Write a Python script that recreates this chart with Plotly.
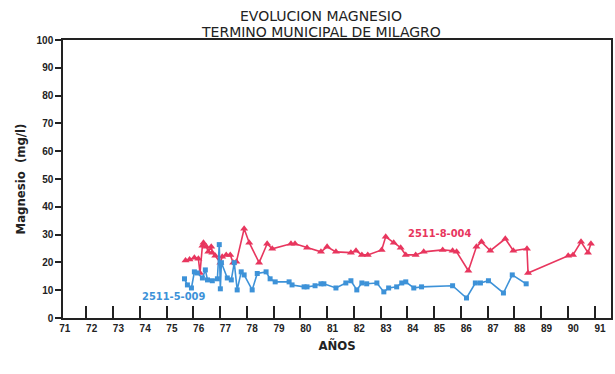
import plotly.graph_objects as go

# Well 2511-8-004 (red, triangles)
years_8004 = [75.51, 75.66, 75.84, 75.99, 76.05, 76.14, 76.18, 76.29, 76.36, 76.47,
              76.51, 76.62, 76.81, 76.88, 77.03, 77.18, 77.29, 77.41, 77.70, 77.89,
              78.26, 78.56, 78.75, 79.45, 79.60, 80.05, 80.57, 80.80, 81.13, 81.69,
              81.88, 82.10, 82.32, 82.84, 82.99, 83.29, 83.55, 83.74, 84.11, 84.41,
              85.12, 85.49, 85.64, 86.08, 86.38, 86.57, 86.90, 87.46, 87.76, 88.27,
              88.31, 89.81, 89.99, 90.29, 90.55, 90.66]
mg_8004 = [20.7, 21.0, 21.7, 21.3, 16.2, 26.0, 27.1, 25.6, 23.8, 25.6,
           23.5, 22.4, 19.9, 22.0, 22.7, 22.7, 19.9, 20.2, 32.1, 27.1,
           19.9, 26.7, 24.9, 26.7, 26.7, 25.3, 23.8, 25.6, 23.8, 23.5,
           24.2, 22.7, 22.7, 24.5, 29.2, 27.1, 25.3, 22.7, 22.7, 23.8,
           24.5, 24.2, 23.8, 17.0, 25.6, 27.4, 24.2, 28.5, 24.2, 24.9,
           16.2, 22.4, 22.7, 27.4, 23.5, 26.7]

# Well 2511-5-009 (blue, squares)
years_5009 = [75.47, 75.58, 75.73, 75.84, 75.95, 76.14, 76.25, 76.33, 76.51, 76.70,
              76.77, 76.81, 76.85, 77.07, 77.22, 77.33, 77.44, 77.59, 77.70, 78.00,
              78.19, 78.52, 78.67, 78.86, 79.38, 79.49, 79.94, 80.05, 80.35, 80.57,
              80.68, 81.13, 81.50, 81.69, 81.91, 82.10, 82.28, 82.66, 82.92, 83.10,
              83.40, 83.59, 83.74, 84.04, 84.33, 85.49, 86.01, 86.34, 86.53, 86.83,
              87.39, 87.72, 88.24]
mg_5009 = [14.1, 11.9, 10.8, 16.6, 16.2, 14.4, 17.3, 13.7, 13.4, 14.1,
           26.4, 10.5, 19.9, 14.4, 13.7, 19.9, 10.1, 16.6, 15.5, 10.1,
           16.0, 16.6, 14.1, 13.0, 13.0, 11.9, 11.2, 11.2, 11.6, 12.3,
           12.3, 10.8, 12.6, 13.4, 10.1, 12.6, 12.3, 12.6, 9.4, 10.8,
           11.2, 12.6, 13.0, 10.8, 11.2, 11.6, 7.2, 12.6, 12.6, 13.4,
           9.0, 15.5, 12.3]

year_labels = [str(y) for y in range(71, 92)]
year_vals = list(range(71, 92))
y_ticks = list(range(0, 101, 10))
title_lines = ["EVOLUCION MAGNESIO", "TERMINO MUNICIPAL DE MILAGRO"]

RED = "#e8365e"
BLUE = "#3d92d8"
INK = "#222"
FONT = "DejaVu Sans Condensed, Liberation Sans, Arial, sans-serif"
TITLEFONT = "DejaVu Sans, Liberation Sans, Arial, sans-serif"
TICKFONT = "Liberation Sans, Arial, sans-serif"

fig = go.Figure()
fig.add_trace(go.Scatter(
    x=years_8004, y=mg_8004, mode="lines+markers",
    line=dict(color=RED, width=1.6),
    marker=dict(symbol="triangle-up", size=7, color=RED),
    showlegend=False))
fig.add_trace(go.Scatter(
    x=years_5009, y=mg_5009, mode="lines+markers",
    line=dict(color=BLUE, width=1.6),
    marker=dict(symbol="square", size=5, color=BLUE),
    showlegend=False))

fig.add_annotation(x=85.0, y=30.3, text="<b>2511-8-004</b>", showarrow=False,
                   font=dict(family=FONT, size=11, color=RED))
fig.add_annotation(x=75.06, y=7.6, text="<b>2511-5-009</b>", showarrow=False,
                   font=dict(family=FONT, size=11, color=BLUE))

# Two-line heading above the frame
for i, line in enumerate(title_lines):
    fig.add_annotation(xref="paper", yref="paper", x=0.47, y=1,
                       yanchor="middle", yshift=24 - 16 * i,
                       text=line, showarrow=False,
                       font=dict(family=TITLEFONT, size=14, color=INK))

fig.update_layout(
    width=615, height=374,
    margin=dict(l=63, r=2, t=40, b=56),
    paper_bgcolor="white", plot_bgcolor="white",
    xaxis=dict(
        range=[70.93, 91.41], tickvals=year_vals, ticktext=year_labels,
        ticks="", showgrid=False, zeroline=False,
        showline=True, linecolor=INK, linewidth=1.5, mirror=True,
        tickfont=dict(family=TICKFONT, size=10, color=INK, weight="bold"),
        minor=dict(tickvals=[v + 0.8 for v in year_vals[:-1]], ticks="inside",
                   ticklen=12, tickwidth=1.5, tickcolor=INK, showgrid=False),
        title=dict(text="<b>AÑOS</b>", standoff=8,
                   font=dict(family=FONT, size=13, color=INK)),
    ),
    yaxis=dict(
        range=[0, 100], tickvals=y_ticks, ticks="outside", ticklen=6,
        tickwidth=1.5, tickcolor=INK, showgrid=False, zeroline=False,
        showline=True, linecolor=INK, linewidth=1.5, mirror=True,
        tickfont=dict(family=TICKFONT, size=10, color=INK, weight="bold"),
        title=dict(text="<b>Magnesio  (mg/l)</b>", standoff=8,
                   font=dict(family=FONT, size=13, color=INK)),
    ),
)

fig.write_html("out.html")
